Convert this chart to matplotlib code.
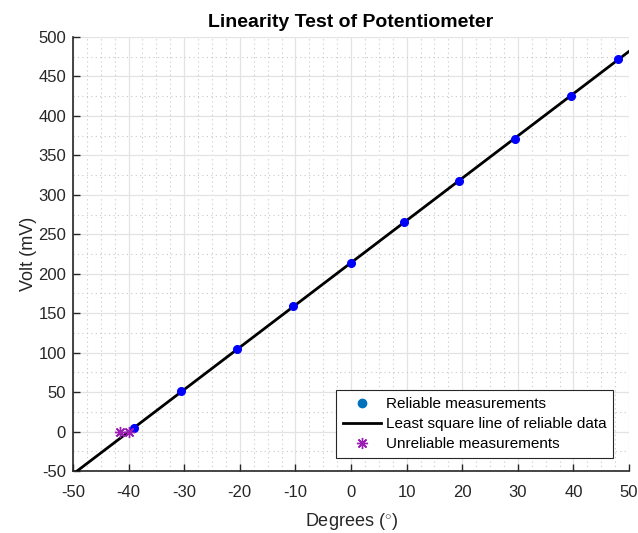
import numpy as np
import matplotlib
matplotlib.use("Agg")
import matplotlib.pyplot as plt
from matplotlib.lines import Line2D
from matplotlib.ticker import MultipleLocator

plt.rcParams['font.family'] = ['Liberation Sans', 'DejaVu Sans']
plt.rcParams['mathtext.fontset'] = 'custom'
plt.rcParams['mathtext.rm'] = 'Liberation Sans'
plt.rcParams['axes.unicode_minus'] = False

# measured angle (deg) and output voltage (mV)
deg_good = [-39, -30.5, -20.5, -10.5, 0, 9.5, 19.5, 29.5, 39.5, 48]
volt_good = [4, 51, 104, 159, 214, 265, 318, 371, 425, 472]
deg_bad = [-41.5, -40]
volt_bad = [0, 0]

# least squares fit on the reliable points
k, b = np.polyfit(deg_good, volt_good, 1)
xfit = np.array([-50, 50])
yfit = k * xfit + b

star = (8, 2, 0)  # 8-arm asterisk

fig = plt.figure(figsize=(6.38, 5.33), dpi=100)
ax = fig.add_axes([0.1144, 0.1163, 0.8716, 0.8143])

ax.plot(xfit, yfit, color='black', lw=2, zorder=3)
ax.plot(deg_good, volt_good, 'o', color='#0000FF', ms=5.5, zorder=4)
ax.plot(deg_bad, volt_bad, ls='none', color='#9B1DB5', ms=8, mew=1.0, zorder=4,
        marker=star)

ax.set_xlim(-50, 50)
ax.set_ylim(-50, 500)
ax.xaxis.set_major_locator(MultipleLocator(10))
ax.yaxis.set_major_locator(MultipleLocator(50))
ax.xaxis.set_minor_locator(MultipleLocator(2.5))
ax.yaxis.set_minor_locator(MultipleLocator(25))

ax.grid(True, which='major', color='#E3E3E3', lw=0.9)
ax.grid(True, which='minor', color='#C8C8C8', lw=0.8, ls=(0, (1, 3)))
ax.set_axisbelow(True)

for s in ['top', 'right']:
    ax.spines[s].set_visible(False)
for s in ['left', 'bottom']:
    ax.spines[s].set_color('#262626')
    ax.spines[s].set_linewidth(1.2)
ax.tick_params(which='major', direction='in', length=5, width=1,
               colors='#262626', labelsize=12)
ax.tick_params(axis='x', pad=10)
ax.tick_params(axis='y', pad=5)
ax.tick_params(which='minor', length=0)

ax.set_xlabel(r'Degrees ($^{\circ}$)', fontsize=13, color='#262626', labelpad=8)
ax.set_ylabel('Volt (mV)', fontsize=13, color='#262626', labelpad=1)
ax.set_title('Linearity Test of Potentiometer', fontsize=14, fontweight='bold', pad=7)

handles = [
    Line2D([], [], ls='none', marker='o', color='#0072BD', ms=6),
    Line2D([], [], color='black', lw=2),
    Line2D([], [], ls='none', marker=star, color='#9B1DB5', ms=8, mew=1.0),
]
labels = ['Reliable measurements', 'Least square line of reliable data',
          'Unreliable measurements']
leg = ax.legend(handles, labels, loc='lower right', bbox_to_anchor=(0.972, 0.03),
                fontsize=11, fancybox=False, framealpha=1, edgecolor='#262626',
                handlelength=2.5, handletextpad=0.3, borderpad=0.45, labelspacing=0.4,
                borderaxespad=0)
leg.get_frame().set_linewidth(0.8)

fig.savefig('out.png', dpi=100)
